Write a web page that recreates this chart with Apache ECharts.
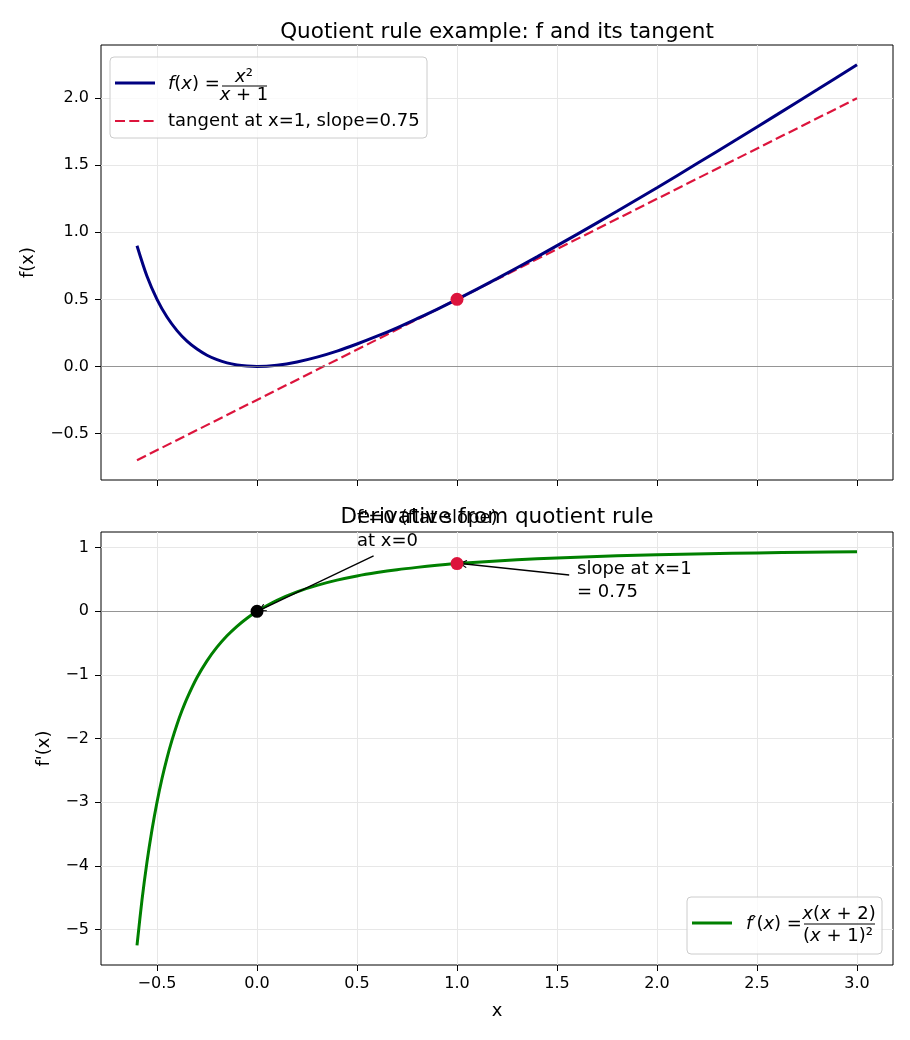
<!DOCTYPE html>
<html>
<head>
<meta charset="utf-8">
<script src="https://cdn.jsdelivr.net/npm/echarts@6/dist/echarts.min.js"></script>
<style>
  html, body { margin: 0; padding: 0; background: #fff; }
  #chart { width: 910px; height: 1040px; }
</style>
</head>
<body>
<div id="chart"></div>
<script>
  // top panel: f(x) = x^2 / (x + 1)
  const fX = [-0.6, -0.55, -0.5, -0.45, -0.4, -0.35, -0.3, -0.25, -0.2, -0.15, -0.1, -0.05, 0,
    0.1, 0.2, 0.3, 0.4, 0.5, 0.6, 0.7, 0.8, 0.9, 1.0, 1.2, 1.4, 1.6, 1.8, 2.0, 2.2, 2.4, 2.6, 2.8, 3.0]
  const fY = [0.900, 0.672, 0.500, 0.368, 0.267, 0.188, 0.129, 0.083, 0.050, 0.026, 0.011, 0.003, 0,
    0.009, 0.033, 0.069, 0.114, 0.167, 0.225, 0.288, 0.356, 0.426, 0.500, 0.655, 0.817, 0.985, 1.157, 1.333, 1.513, 1.694, 1.878, 2.063, 2.250]
  const tangentX = [-0.6, 3.0]
  const tangentY = [-0.7, 2.0]
  const tangentPoint = [1, 0.5]

  // bottom panel: f'(x)
  const dX = [-0.6, -0.575, -0.55, -0.525, -0.5, -0.475, -0.45, -0.425, -0.4, -0.375, -0.35, -0.3, -0.25, -0.2, -0.15, -0.1, -0.05, 0,
    0.1, 0.2, 0.3, 0.4, 0.5, 0.6, 0.7, 0.8, 0.9, 1.0, 1.2, 1.4, 1.6, 1.8, 2.0, 2.25, 2.5, 2.75, 3.0]
  const dY = [-5.250, -4.536, -3.938, -3.432, -3.000, -2.628, -2.306, -2.025, -1.778, -1.560, -1.367, -1.041, -0.778, -0.563, -0.384, -0.235, -0.108, 0,
    0.174, 0.306, 0.408, 0.490, 0.556, 0.609, 0.654, 0.691, 0.723, 0.750, 0.793, 0.826, 0.852, 0.872, 0.889, 0.905, 0.918, 0.929, 0.938]
  const flatPoint = [0, 0]
  const slopePoint = [1, 0.75]

  // tick labels
  const xTicks = [-0.5, 0, 0.5, 1, 1.5, 2, 2.5, 3]
  const fTicks = [-0.5, 0, 0.5, 1, 1.5, 2]
  const dTicks = [-5, -4, -3, -2, -1, 0, 1]

  // annotations: text anchor, arrow start, arrow end
  const flatNote = { text: "f'=0 (flat slope)\nat x=0", at: [0.5, 1.0], from: [0.583, 0.873], to: [0.025, 0.035] }
  const slopeNote = { text: 'slope at x=1\n= 0.75', at: [1.6, 0.2], from: [1.561, 0.571], to: [1.03, 0.748] }

  const zip = (a, b) => a.map((v, i) => [v, b[i]])
  const FONT = 'DejaVu Sans'
  const minus = s => s.replace('-', '\u2212')
  const gridColor = '#e7e7e7'
  const chevron = 'path://M5,0 L10,9 L9,10 L5,2.6 L1,10 L0,9 Z'

  let myChart = echarts.init(document.getElementById('chart'))

  function xAxisOf (gridIndex, showLabel) {
    return {
      type: 'value',
      gridIndex: gridIndex,
      min: -0.78,
      max: 3.18,
      splitNumber: 8,
      axisLine: { show: false, onZero: false },
      axisTick: {
        show: true,
        inside: false,
        length: 6,
        customValues: xTicks,
        lineStyle: { color: '#000', width: 1 }
      },
      axisLabel: {
        show: showLabel,
        customValues: xTicks,
        margin: 11,
        color: '#000',
        fontFamily: FONT,
        fontSize: 16,
        formatter: v => minus(v.toFixed(1))
      },
      splitLine: { show: true, lineStyle: { color: gridColor, width: 1 } }
    }
  }

  function yAxisOf (gridIndex, min, max, ticks, digits, name, gap) {
    return {
      type: 'value',
      gridIndex: gridIndex,
      min: min,
      max: max,
      splitNumber: 7,
      name: name,
      nameLocation: 'middle',
      nameGap: gap,
      nameTextStyle: { fontFamily: FONT, fontSize: 18, color: '#000' },
      axisLine: { show: false, onZero: false },
      axisTick: { show: true, inside: false, length: 6, customValues: ticks, lineStyle: { color: '#000', width: 1 } },
      axisLabel: {
        customValues: ticks,
        margin: 12,
        color: '#000',
        fontFamily: FONT,
        fontSize: 16,
        formatter: v => minus(v.toFixed(digits))
      },
      splitLine: { show: true, lineStyle: { color: gridColor, width: 1 } }
    }
  }

  const titleStyle = { fontFamily: FONT, fontSize: 21.5, fontWeight: 'normal', color: '#000' }

  let option = {
    backgroundColor: '#fff',
    animation: false,
    title: [{
      text: 'Quotient rule example: f and its tangent',
      left: 497,
      top: 21,
      padding: 0,
      textAlign: 'center',
      textStyle: titleStyle
    }, {
      text: 'Derivative from quotient rule',
      left: 497,
      top: 506,
      padding: 0,
      textAlign: 'center',
      textStyle: titleStyle
    }],
    grid: [{
      show: true,
      left: 101,
      top: 45,
      width: 792,
      height: 435,
      borderColor: '#000',
      borderWidth: 1,
      backgroundColor: 'transparent'
    }, {
      show: true,
      left: 101,
      top: 532,
      width: 792,
      height: 433,
      borderColor: '#000',
      borderWidth: 1,
      backgroundColor: 'transparent'
    }],
    xAxis: [
      xAxisOf(0, false),
      Object.assign(xAxisOf(1, true), {
        name: 'x',
        nameLocation: 'middle',
        nameGap: 37,
        nameTextStyle: { fontFamily: FONT, fontSize: 18, color: '#000' }
      })
    ],
    yAxis: [
      yAxisOf(0, -0.8475, 2.3975, fTicks, 1, 'f(x)', 64),
      yAxisOf(1, -5.559, 1.247, dTicks, 0, "f'(x)", 48)
    ],
    series: [{
      name: 'f',
      type: 'line',
      xAxisIndex: 0,
      yAxisIndex: 0,
      showSymbol: false,
      smooth: 0.3,
      z: 3,
      lineStyle: { color: '#000080', width: 3 },
      data: zip(fX, fY),
      markLine: {
        silent: true,
        symbol: ['none', 'none'],
        label: { show: false },
        lineStyle: { color: '#808080', width: 0.8, type: 'solid' },
        data: [{ yAxis: 0 }]
      }
    }, {
      name: 'tangent',
      type: 'line',
      xAxisIndex: 0,
      yAxisIndex: 0,
      showSymbol: false,
      z: 2,
      lineStyle: { color: '#DC143C', width: 2.2, type: [10, 4.3] },
      data: zip(tangentX, tangentY)
    }, {
      name: 'point f',
      type: 'scatter',
      xAxisIndex: 0,
      yAxisIndex: 0,
      symbolSize: 13,
      z: 5,
      itemStyle: { color: '#DC143C', opacity: 1 },
      data: [tangentPoint]
    }, {
      name: 'df',
      type: 'line',
      xAxisIndex: 1,
      yAxisIndex: 1,
      showSymbol: false,
      smooth: 0.3,
      z: 3,
      lineStyle: { color: '#008000', width: 3 },
      data: zip(dX, dY),
      markLine: {
        silent: true,
        symbol: ['none', 'none'],
        label: { show: false },
        lineStyle: { color: '#808080', width: 0.8, type: 'solid' },
        data: [
          { yAxis: 0 },
          [
            { coord: flatNote.from, symbol: 'none', lineStyle: { color: '#000', width: 1.3 } },
            { coord: flatNote.to, symbol: chevron, symbolSize: [8, 8] }
          ],
          [
            { coord: slopeNote.from, symbol: 'none', lineStyle: { color: '#000', width: 1.3 } },
            { coord: slopeNote.to, symbol: chevron, symbolSize: [8, 8] }
          ]
        ]
      }
    }, {
      name: 'points df',
      type: 'scatter',
      xAxisIndex: 1,
      yAxisIndex: 1,
      symbolSize: 13,
      z: 5,
      itemStyle: { color: p => p.dataIndex === 0 ? '#000' : '#DC143C', opacity: 1 },
      data: [flatPoint, slopePoint]
    }]
  }
  myChart.setOption(option)

  // legends (mathtext-like) and annotation texts
  const rich = {
    i: { fontFamily: FONT, fontSize: 18, fontStyle: 'italic', fill: '#000' },
    n: { fontFamily: FONT, fontSize: 18, fill: '#000' }
  }
  function mathText (x, y, text, align) {
    return {
      type: 'text', x: x, y: y, z: 100,
      style: { text: text, rich: rich, font: '18px ' + FONT, fill: '#000', align: align || 'left', verticalAlign: 'middle' }
    }
  }
  const p1 = myChart.convertToPixel({ gridIndex: 1 }, flatNote.at)
  const p2 = myChart.convertToPixel({ gridIndex: 1 }, slopeNote.at)
  const noteStyle = { font: '18px ' + FONT, fill: '#000', lineHeight: 23, verticalAlign: 'bottom', align: 'left' }

  myChart.setOption({
    graphic: [
      // top legend
      { type: 'rect', z: 90, shape: { x: 110, y: 57, width: 317, height: 81, r: 4 }, style: { fill: 'rgba(255,255,255,0.8)', stroke: '#cccccc', lineWidth: 1 } },
      { type: 'line', z: 100, shape: { x1: 115, y1: 83, x2: 155, y2: 83 }, style: { stroke: '#000080', lineWidth: 3 } },
      mathText(168, 84, '{i|f}{n|(}{i|x}{n|) =}'),
      mathText(244, 77, '{i|x}{n|²}', 'center'),
      { type: 'line', z: 100, shape: { x1: 222, y1: 86, x2: 267, y2: 86 }, style: { stroke: '#000', lineWidth: 1 } },
      mathText(244, 95, '{i|x}{n| + 1}', 'center'),
      { type: 'line', z: 100, shape: { x1: 115, y1: 121, x2: 155, y2: 121 }, style: { stroke: '#DC143C', lineWidth: 2.2, lineDash: [10, 4.3] } },
      mathText(168, 121, 'tangent at x=1, slope=0.75'),
      // bottom legend
      { type: 'rect', z: 90, shape: { x: 687, y: 897, width: 195, height: 57, r: 4 }, style: { fill: 'rgba(255,255,255,0.8)', stroke: '#cccccc', lineWidth: 1 } },
      { type: 'line', z: 100, shape: { x1: 692, y1: 923, x2: 732, y2: 923 }, style: { stroke: '#008000', lineWidth: 3 } },
      mathText(746, 924, '{i|f}{n|′(}{i|x}{n|) =}'),
      mathText(839, 914, '{i|x}{n|(}{i|x}{n| + 2)}', 'center'),
      { type: 'line', z: 100, shape: { x1: 804, y1: 924, x2: 875, y2: 924 }, style: { stroke: '#000', lineWidth: 1 } },
      mathText(838, 936, '{n|(}{i|x}{n| + 1)²}', 'center'),
      // annotations
      { type: 'text', z: 100, x: p1[0], y: p1[1] + 5, style: Object.assign({ text: flatNote.text }, noteStyle) },
      { type: 'text', z: 100, x: p2[0], y: p2[1] + 5, style: Object.assign({ text: slopeNote.text }, noteStyle) }
    ]
  })
</script>
</body>
</html>
